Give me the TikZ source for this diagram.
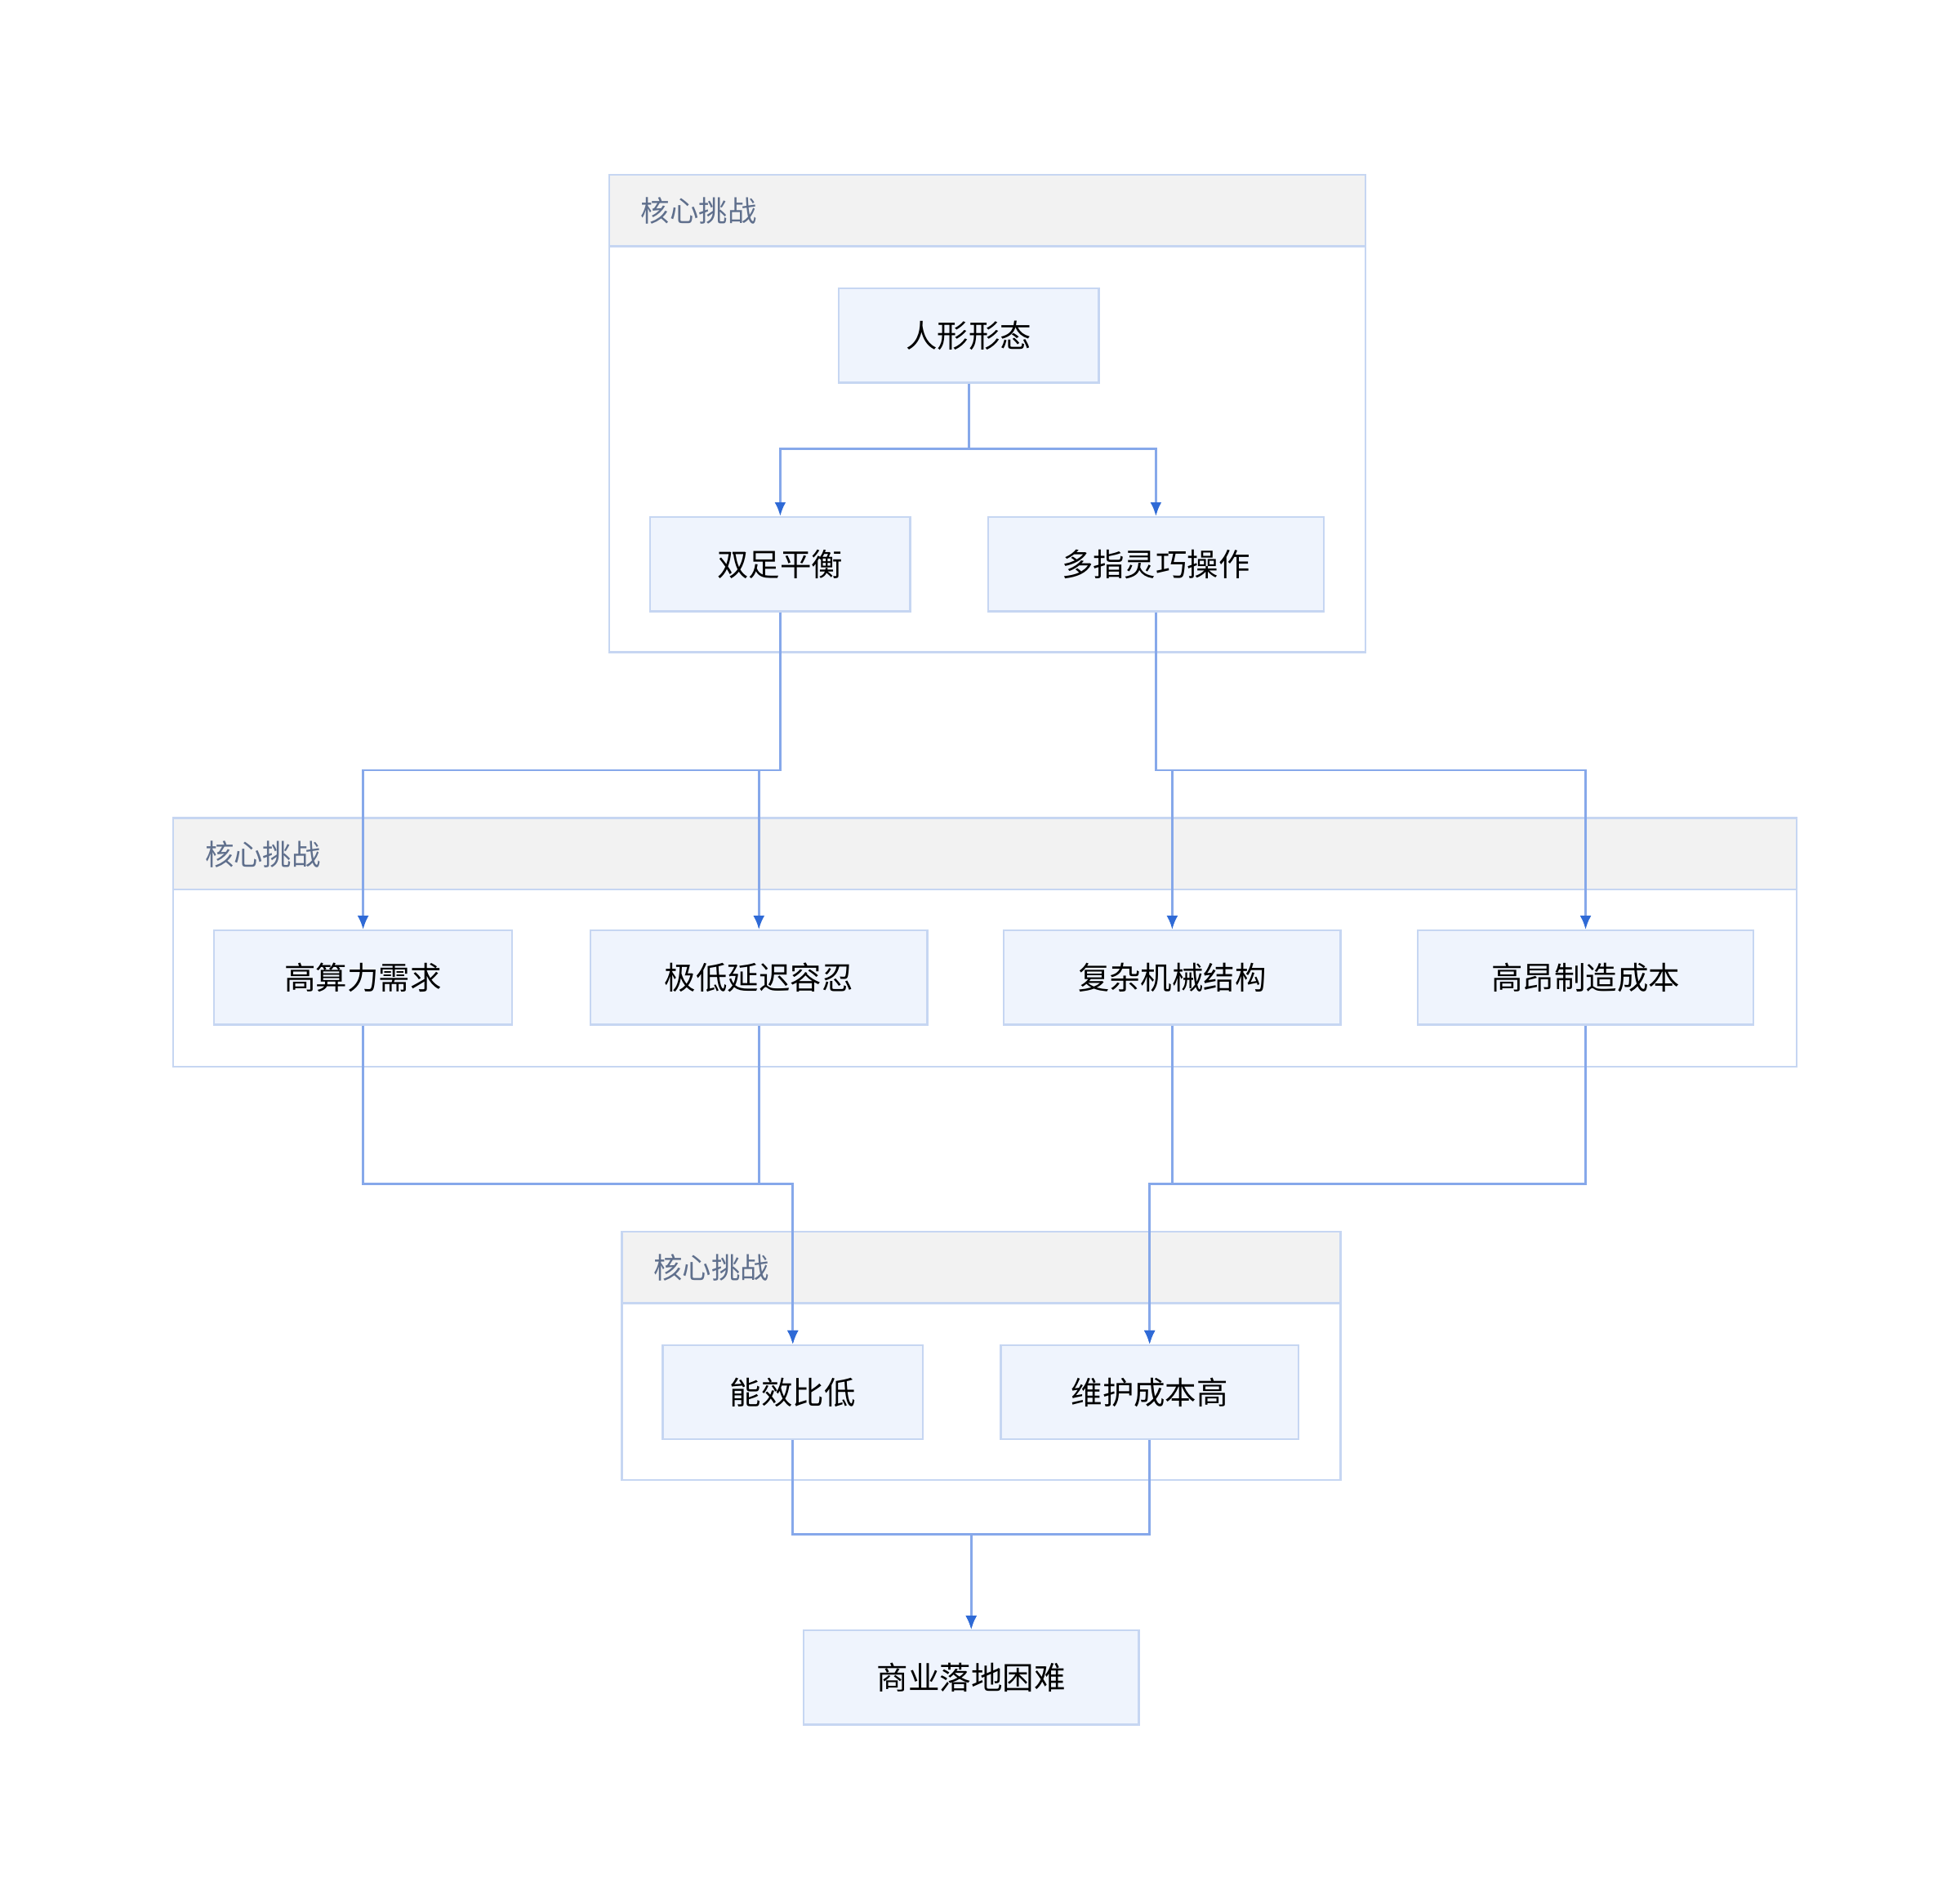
\documentclass[tikz,border=0pt]{standalone}
\usepackage{fontspec}
\setmainfont{Noto Sans CJK SC}
\usetikzlibrary{arrows.meta}
\definecolor{boxfill}{HTML}{EFF4FD}
\definecolor{boxline}{HTML}{C6D6F2}
\definecolor{headfill}{HTML}{F2F2F2}
\definecolor{edgeline}{HTML}{86A8EA}
\definecolor{tipblue}{HTML}{2F6AD6}
\definecolor{headtext}{HTML}{5F6F8C}
\begin{document}
\begin{tikzpicture}
[x=1pt, y=-1pt,
 box/.style={rectangle, fill=boxfill, draw=boxline, line width=1.5pt, minimum height=75pt, inner sep=0pt, font=\fontsize{25}{30}\selectfont},
 grp/.style={draw=boxline, line width=1.5pt, fill=white},
 head/.style={draw=boxline, line width=1.5pt, fill=headfill},
 grplabel/.style={anchor=west, inner sep=0pt, text=headtext, font=\fontsize{23}{28}\selectfont},
 edge/.style={draw=edgeline, line width=1.8pt, -{Latex[length=11pt, width=9pt, color=tipblue]}}]
\useasboundingbox (0,0) rectangle (1560,1504);
% groups
\draw [grp] (485,139) rectangle (1087,519);
\draw [head] (485,139) rectangle (1087,196);
\node (g1) [grplabel] at (510,168) {核心挑战};
\draw [grp] (138,651) rectangle (1430,849);
\draw [head] (138,651) rectangle (1430,708);
\node (g2) [grplabel] at (163,680) {核心挑战};
\draw [grp] (495,980) rectangle (1067,1178);
\draw [head] (495,980) rectangle (1067,1037);
\node (g3) [grplabel] at (520,1009) {核心挑战};
% nodes
\node (rx) [box, minimum width=207pt] at (771,267) {人形形态};
\node (sz) [box, minimum width=207pt] at (621,449) {双足平衡};
\node (dz) [box, minimum width=267pt] at (920,449) {多指灵巧操作};
\node (gs) [box, minimum width=237pt] at (289,778) {高算力需求};
\node (jd) [box, minimum width=268pt] at (604,778) {极低延迟容忍};
\node (fz) [box, minimum width=268pt] at (933,778) {复杂机械结构};
\node (ga) [box, minimum width=267pt] at (1262,778) {高昂制造成本};
\node (nx) [box, minimum width=207pt] at (631,1108) {能效比低};
\node (wh) [box, minimum width=237pt] at (915,1108) {维护成本高};
\node (sy) [box, minimum width=267pt] at (773,1335) {商业落地困难};
% junction levels
\coordinate (j1) at (0,357);
\coordinate (j2) at (0,613);
\coordinate (j3) at (0,942);
\coordinate (j4) at (0,1221);
% edges
\draw [edge] (rx.south) -- (rx.south |- j1) -| (sz.north);
\draw [edge] (rx.south) -- (rx.south |- j1) -| (dz.north);
\draw [edge] (sz.south) -- (sz.south |- j2) -| (gs.north);
\draw [edge] (sz.south) -- (sz.south |- j2) -| (jd.north);
\draw [edge] (dz.south) -- (dz.south |- j2) -| (fz.north);
\draw [edge] (dz.south) -- (dz.south |- j2) -| (ga.north);
\draw [edge] (gs.south) -- (gs.south |- j3) -| (nx.north);
\draw [edge] (jd.south) -- (jd.south |- j3) -| (nx.north);
\draw [edge] (fz.south) -- (fz.south |- j3) -| (wh.north);
\draw [edge] (ga.south) -- (ga.south |- j3) -| (wh.north);
\draw [edge] (nx.south) -- (nx.south |- j4) -| (sy.north);
\draw [edge] (wh.south) -- (wh.south |- j4) -| (sy.north);
\end{tikzpicture}
\end{document}
